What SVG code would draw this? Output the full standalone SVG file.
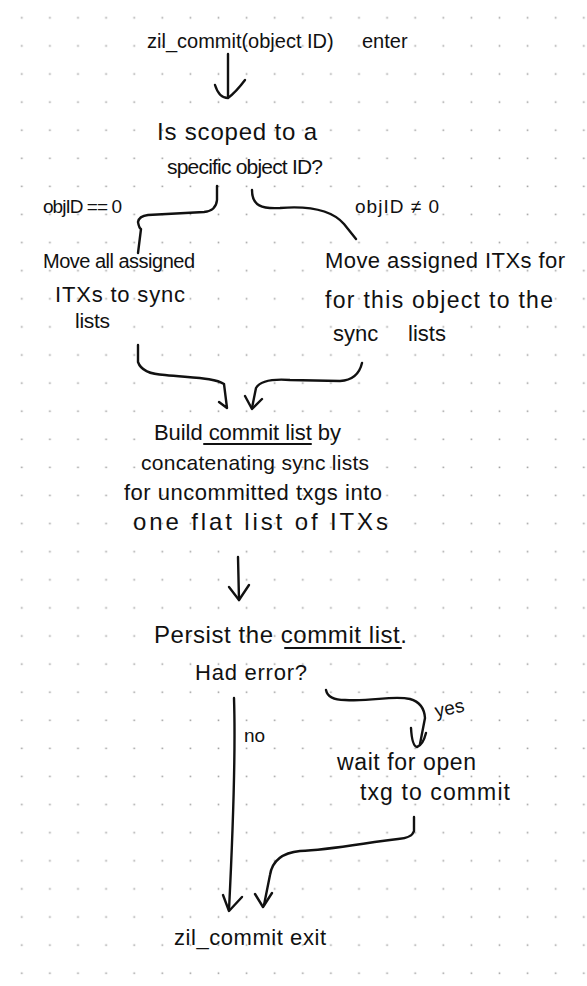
<svg xmlns="http://www.w3.org/2000/svg" width="587" height="986" viewBox="0 0 587 986">
  <defs>
    <pattern id="dots" x="0" y="0" width="28.1" height="28.1" patternUnits="userSpaceOnUse">
      <rect x="21" y="17" width="1.6" height="1.6" fill="#a0a0a0"/>
    </pattern>
    <style>
      .t { font-family: "Liberation Sans", Arial, sans-serif; fill: #111; font-size: 22px; }
      .c { fill: none; stroke: #111; stroke-width: 2.4; stroke-linecap: round; stroke-linejoin: round; }
      .u { fill: none; stroke: #111; stroke-width: 2; stroke-linecap: round; }
    </style>
  </defs>
  <rect width="587" height="986" fill="#ffffff"/>
  <rect width="587" height="986" fill="url(#dots)"/>

  <g id="connectors">
    <!-- enter -> question -->
    <path class="c" d="M228,54 L228,96"/>
    <path class="c" d="M215,85 Q219,98 228,98 Q236,92 245,80"/>
    <!-- question -> objID==0 branch -->
    <path class="c" d="M217,186 L217,200 Q216,211 204,212 L148,215 Q139,216 138,222 Q139,228 141,229 L138,253"/>
    <!-- question -> objID!=0 branch -->
    <path class="c" d="M252,190 C252,206 262,209 280,208 C305,206 330,208 344,224 L356,239"/>
    <!-- left block -> build -->
    <path class="c" d="M138,345 L138,362 Q142,374 165,375 C195,378 215,378 224,384 L227,408 L219,402"/>
    <!-- right block -> build -->
    <path class="c" d="M362,363 Q358,380 340,381 L290,380 Q262,378 256,388 L252,408"/>
    <path class="c" d="M245,396 L252,409 L262,399"/>
    <!-- build -> persist -->
    <path class="c" d="M238,557 L239,600"/>
    <path class="c" d="M229,587 L239,600 L249,585"/>
    <!-- had error: no -->
    <path class="c" d="M234,698 C236,760 232,850 229,910"/>
    <path class="c" d="M223,895 L229,911 L242,897"/>
    <!-- had error: yes -->
    <path class="c" d="M326,690 Q328,700 345,700 C372,702 392,695 410,699 Q424,703 425,718 L420,744"/>
    <path class="c" d="M411,728 Q412,746 417,747 Q423,745 426,733"/>
    <!-- wait -> exit -->
    <path class="c" d="M414,817 L414,831 Q412,838 398,839 C370,842 330,850 300,851 C280,853 272,862 270,875 L264,905"/>
    <path class="c" d="M255,894 L263,907 L272,893"/>
  </g>

  <g id="node-enter">
    <text class="t" y="48" style="font-size:20px"><tspan x="147">zil_commit(object ID)</tspan><tspan x="362">enter</tspan></text>
  </g>

  <g id="node-scoped">
    <text class="t" x="157" y="140" style="font-size:24px" textLength="160">Is scoped to a</text>
    <text class="t" x="167" y="174" style="font-size:21px" textLength="156">specific object ID?</text>
  </g>

  <g id="label-zero">
    <text class="t" x="43" y="213" style="font-size:19px" textLength="79">objID == 0</text>
  </g>
  <g id="label-nonzero">
    <text class="t" x="355" y="213" style="font-size:19px" textLength="84">objID ≠ 0</text>
  </g>

  <g id="node-move-all">
    <text class="t" x="43" y="268" style="font-size:20px" textLength="152">Move all assigned</text>
    <text class="t" x="55" y="302" textLength="130">ITXs to sync</text>
    <text class="t" x="75" y="328" style="font-size:21px" textLength="35">lists</text>
  </g>

  <g id="node-move-object">
    <text class="t" x="325" y="268" textLength="240">Move assigned ITXs for</text>
    <text class="t" x="325" y="308" style="font-size:23px" textLength="228">for this object to the</text>
    <text class="t" y="341"><tspan x="333">sync</tspan><tspan x="408">lists</tspan></text>
  </g>

  <g id="node-build">
    <text class="t" x="154" y="440" textLength="187">Build commit list by</text>
    <path class="u" d="M204,444 L311,444"/>
    <text class="t" x="141" y="470" style="font-size:21px" textLength="228">concatenating sync lists</text>
    <text class="t" x="124" y="500" textLength="258">for uncommitted txgs into</text>
    <text class="t" x="133" y="530" style="font-size:24px" textLength="255">one flat list of ITXs</text>
  </g>

  <g id="node-persist">
    <text class="t" x="154" y="643" style="font-size:24px" textLength="253">Persist the commit list.</text>
    <path class="u" d="M285,648 L401,648"/>
    <text class="t" x="195" y="680" textLength="112">Had error?</text>
  </g>

  <g id="label-no">
    <text class="t" x="244" y="742" style="font-size:19px">no</text>
  </g>
  <g id="label-yes">
    <text class="t" x="435" y="715" style="font-size:19px" transform="rotate(-12 447 710)">yes</text>
  </g>

  <g id="node-wait">
    <text class="t" x="337" y="770" style="font-size:23px" textLength="139">wait for open</text>
    <text class="t" x="360" y="800" style="font-size:23px" textLength="150">txg to commit</text>
  </g>

  <g id="node-exit">
    <text class="t" x="174" y="945" textLength="152">zil_commit exit</text>
  </g>
</svg>
